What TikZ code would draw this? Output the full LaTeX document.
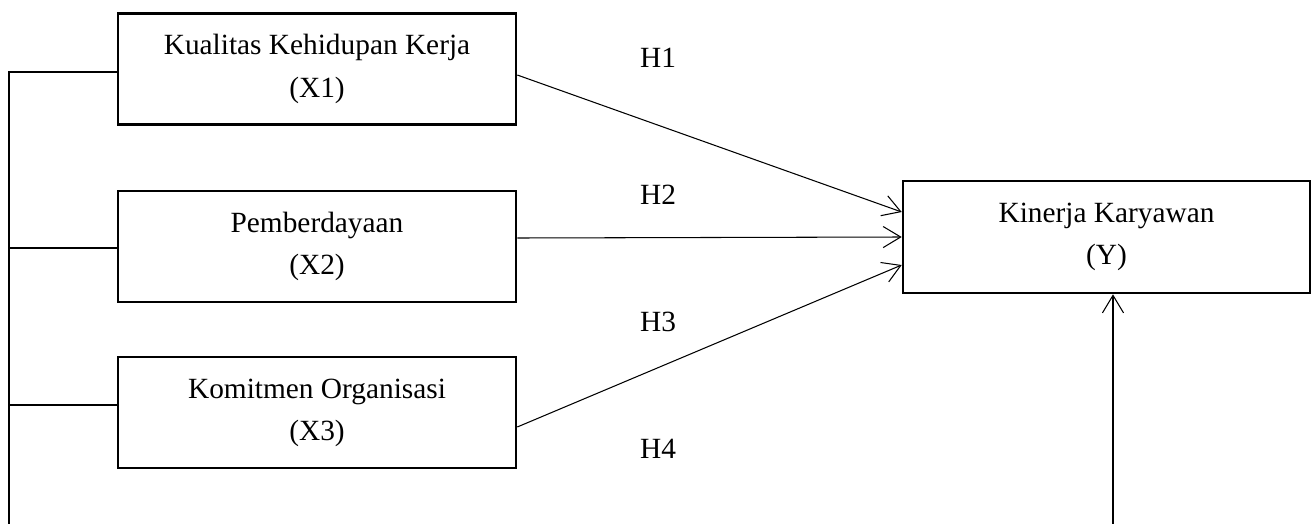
\documentclass[tikz,border=0pt]{standalone}
\usepackage{fontspec}
\setmainfont{Liberation Serif}
\usetikzlibrary{arrows.meta}

\tikzset{
  var/.style={draw, line width=1.5pt, align=center, minimum width=7.96cm, minimum height=2.22cm, font=\fontsize{16.7}{24}\selectfont},
  hyp/.style={font=\fontsize{16.7}{20}\selectfont},
  link/.style={line width=0.6pt}
}

\begin{document}
\begin{tikzpicture}[x=0.02cm, y=-0.02cm, >={Straight Barb[length=10pt,width=12pt]}]
\useasboundingbox (0,0) rectangle (1312,524);

\node[var] (X1) at (317,69) {Kualitas Kehidupan Kerja\\(X1)};
\node[var] (X2) at (317,246.5) {Pemberdayaan\\(X2)};
\node[var] (X3) at (317,412.5) {Komitmen Organisasi\\(X3)};
\node[var, minimum width=8.14cm, minimum height=2.24cm] (Y) at (1106.5,237) {Kinerja Karyawan\\(Y)};

\node[hyp] (H1) at (658,58) {H1};
\node[hyp] (H2) at (658,195) {H2};
\node[hyp] (H3) at (658,322) {H3};
\node[hyp] (H4) at (658,449) {H4};

\draw[link,->] ([yshift=-0.12cm]X1.east) -- ([yshift=0.5cm]Y.west);
\draw[link,->] ([yshift=0.17cm]X2.east) -- (Y.west);
\draw[link,->] ([yshift=-0.29cm]X3.east) -- ([yshift=-0.56cm]Y.west);

% moderator lines, cut at the bottom edge
\coordinate (busbot) at (9,524);
\coordinate (modbot) at (1113,524);
\draw[link] ([yshift=-0.06cm]X1.west) -| (busbot);
\draw[link] ([yshift=-0.03cm]X2.west) -- ([yshift=-0.03cm]X2.west -| busbot);
\draw[link] ([yshift=0.15cm]X3.west) -- ([yshift=0.15cm]X3.west -| busbot);
\draw[link,->] (modbot) -- (modbot |- Y.south);

\end{tikzpicture}
\end{document}
